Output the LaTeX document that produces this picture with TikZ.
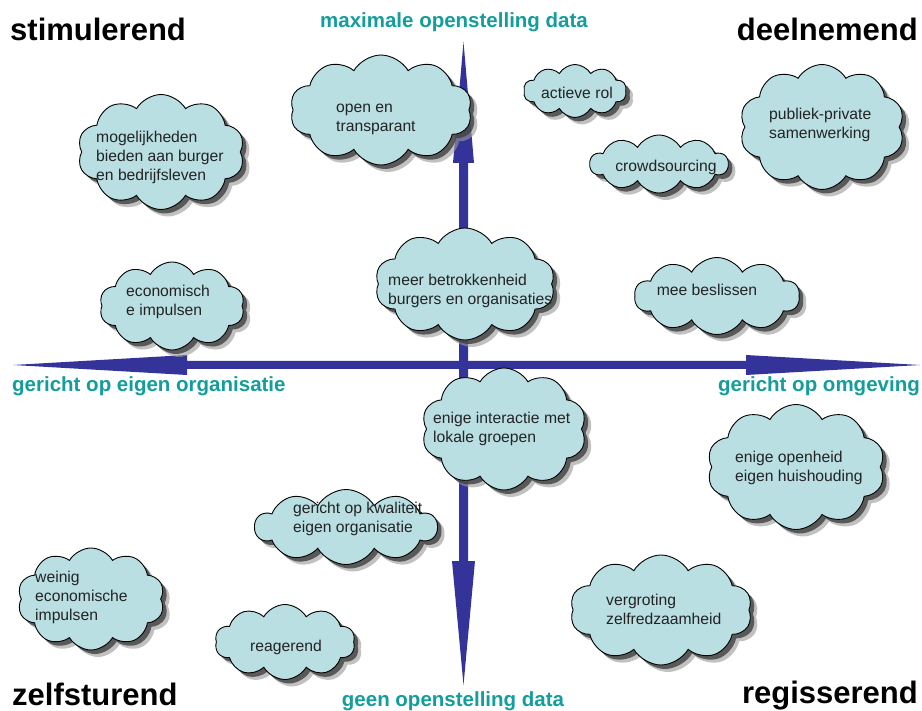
\documentclass[tikz,border=0pt]{standalone}
\usepackage{fontspec}
\setmainfont{Liberation Sans}
\usetikzlibrary{shapes.symbols,shadows}
\definecolor{axisblue}{RGB}{51,51,153}
\definecolor{tealtxt}{RGB}{20,158,155}
\definecolor{cloudfill}{RGB}{185,223,227}
\definecolor{cloudtxt}{RGB}{35,35,35}
\begin{document}
\begin{tikzpicture}[x=1pt,y=-1pt,
  cloudbox/.style={cloud, cloud puffs=10, cloud puff arc=120, cloud ignores aspect,
    draw=black, line width=0.9pt, fill=cloudfill, inner sep=0pt,
    drop shadow={shadow xshift=7pt, shadow yshift=-7pt, fill=black!40, opacity=0.6},
    drop shadow={shadow xshift=4pt, shadow yshift=-4pt, fill=black!75, opacity=0.8}},
  cloudtext/.style={text=cloudtxt, align=left, inner sep=0pt, font=\fontsize{15.7}{19}\selectfont},
  cornerlbl/.style={font=\bfseries\fontsize{31}{34}\selectfont, text=black, inner sep=0pt},
  axislbl/.style={font=\bfseries\fontsize{20.5}{24}\selectfont, text=tealtxt, inner sep=0pt},
  axisshape/.style={fill=axisblue, draw=none}]
\useasboundingbox[fill=white] (0,0) rectangle (922,711);

% axes
\coordinate (L) at (13,365);
\coordinate (R) at (920,365);
\coordinate (T) at (463.5,42);
\coordinate (B) at (463.5,685);
\fill[axisshape] (L) -- (187,355) -- (187,361) -- (746,361) -- (746,355) -- (R)
  -- (746,375) -- (746,369) -- (187,369) -- (187,375) -- cycle;
\fill[axisshape] (T) -- (474,163) -- (468,163) -- (468,561) -- (475,561) -- (B)
  -- (452,561) -- (459,561) -- (459,163) -- (453,163) -- cycle;

% axis labels
\node[axislbl, anchor=base] (top) at (454,28) {maximale openstelling data};
\node[axislbl, anchor=base] (bot) at (453,706) {geen openstelling data};
\node[axislbl, anchor=base west] (left) at (12,392) {gericht op eigen organisatie};
\node[axislbl, anchor=base east] (right) at (920,392) {gericht op omgeving};

% corner labels
\node[cornerlbl, anchor=base west] (stim) at (10,41) {stimulerend};
\node[cornerlbl, anchor=base east] (deel) at (918,41) {deelnemend};
\node[cornerlbl, anchor=base west] (zelf) at (12,705) {zelfsturend};
\node[cornerlbl, anchor=base east] (regi) at (918,703) {regisserend};

% clouds
\node[cloudbox, minimum width=182, minimum height=110] (c1) at (381,110) {};
\node[cloudtext, anchor=west] (t1) at (336,119) {open en\\transparant};

\node[cloudbox, minimum width=167, minimum height=115] (c2) at (161,152) {};
\node[cloudtext, anchor=west] (t2) at (96,157) {mogelijkheden\\bieden aan burger\\en bedrijfsleven};

\node[cloudbox, minimum width=103, minimum height=53] (c3) at (575,91) {};
\node[cloudtext] (t3) at (577,93) {actieve rol};

\node[cloudbox, minimum width=138, minimum height=58] (c4) at (659,164) {};
\node[cloudtext] (t4) at (666,167) {crowdsourcing};

\node[cloudbox, minimum width=165, minimum height=125] (c5) at (822,127) {};
\node[cloudtext, anchor=west] (t5) at (769,125) {publiek-private\\samenwerking};

\node[cloudbox, minimum width=145, minimum height=88] (c6) at (172,306) {};
\node[cloudtext, anchor=west] (t6) at (126,302) {economisch\\e impulsen};

\node[cloudbox, minimum width=180, minimum height=112] (c7) at (465,284) {};
\node[cloudtext, anchor=west] (t7) at (388,291) {meer betrokkenheid\\burgers en organisaties};

\node[cloudbox, minimum width=165, minimum height=77] (c8) at (717,296) {};
\node[cloudtext] (t8) at (707,290) {mee beslissen};

\node[cloudbox, minimum width=165, minimum height=122] (c9) at (504,429) {};
\node[cloudtext, anchor=west] (t9) at (433,429) {enige interactie met\\lokale groepen};

\node[cloudbox, minimum width=178, minimum height=125] (c10) at (796,467) {};
\node[cloudtext, anchor=west] (t10) at (735,468) {enige openheid\\eigen huishouding};

\node[cloudbox, minimum width=182, minimum height=75] (c11) at (346,527) {};
\node[cloudtext, anchor=west] (t11) at (293,519) {gericht op kwaliteit\\eigen organisatie};

\node[cloudbox, minimum width=147, minimum height=102] (c12) at (91,599) {};
\node[cloudtext, anchor=west] (t12) at (35,597) {weinig\\economische\\impulsen};

\node[cloudbox, minimum width=140, minimum height=75] (c13) at (285,642) {};
\node[cloudtext] (t13) at (286,647) {reagerend};

\node[cloudbox, minimum width=182, minimum height=110] (c14) at (661,610) {};
\node[cloudtext, anchor=west] (t14) at (606,609) {vergroting\\zelfredzaamheid};
\end{tikzpicture}
\end{document}
